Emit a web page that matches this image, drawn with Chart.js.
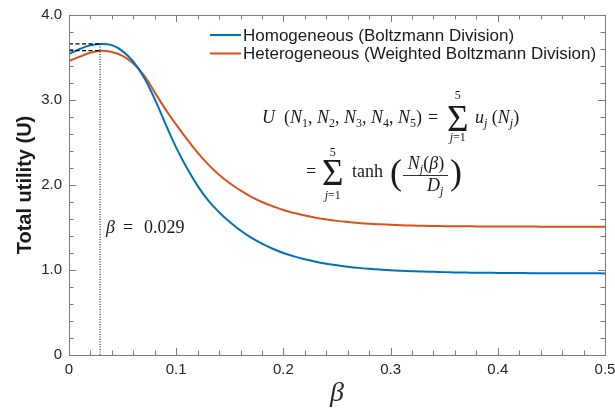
<!DOCTYPE html>
<html>
<head>
<meta charset="utf-8">
<script src="https://cdn.jsdelivr.net/npm/chart.js@4.4.1/dist/chart.umd.min.js"></script>
<style>
  html, body { margin: 0; padding: 0; background: #fff; }
  #wrap { width: 615px; height: 411px; position: relative; }
</style>
</head>
<body>
<div id="wrap"><canvas id="utilityChart"></canvas></div>
<script>
// ── Data ──
const betaValues = [
  0, 0.01, 0.02, 0.03, 0.04, 0.05, 0.06, 0.07, 0.08, 0.09,
  0.10, 0.11, 0.12, 0.13, 0.14, 0.15, 0.16, 0.17, 0.18, 0.19,
  0.20, 0.21, 0.22, 0.23, 0.24, 0.25, 0.26, 0.27, 0.28, 0.29,
  0.30, 0.31, 0.32, 0.33, 0.34, 0.35, 0.36, 0.37, 0.38, 0.39,
  0.40, 0.41, 0.42, 0.43, 0.44, 0.45, 0.46, 0.47, 0.48, 0.49, 0.50
];
const homogeneous = [
  3.54, 3.60, 3.643, 3.66, 3.645, 3.575, 3.45, 3.265, 3.01, 2.72,
  2.44, 2.20, 1.99, 1.815, 1.68, 1.565, 1.465, 1.38, 1.309, 1.25,
  1.20, 1.16, 1.126, 1.097, 1.074, 1.055, 1.039, 1.025, 1.014, 1.005,
  0.997, 0.991, 0.986, 0.981, 0.978, 0.975, 0.972, 0.970, 0.968, 0.967,
  0.966, 0.965, 0.964, 0.963, 0.963, 0.962, 0.962, 0.961, 0.961, 0.961, 0.960
];
const heterogeneous = [
  3.46, 3.51, 3.555, 3.58, 3.565, 3.52, 3.43, 3.29, 3.09, 2.89,
  2.71, 2.54, 2.38, 2.24, 2.12, 2.02, 1.935, 1.86, 1.80, 1.75,
  1.705, 1.67, 1.64, 1.615, 1.595, 1.578, 1.565, 1.554, 1.545, 1.538,
  1.532, 1.527, 1.523, 1.52, 1.518, 1.516, 1.515, 1.514, 1.513, 1.512,
  1.512, 1.511, 1.511, 1.511, 1.51, 1.51, 1.51, 1.51, 1.51, 1.51, 1.51
];
const seriesLabels = [
  'Homogeneous (Boltzmann Division)',
  'Heterogeneous (Weighted Boltzmann Division)'
];

// optimum marker
const peakBeta = 0.029;
const peakHomogeneous = 3.66;
const peakHeterogeneous = 3.58;

// ticks
const xMajorTicks = [0, 0.1, 0.2, 0.3, 0.4, 0.5];
const xMinorTicks = [0.02, 0.04, 0.06, 0.08, 0.12, 0.14, 0.16, 0.18, 0.22, 0.24,
                     0.26, 0.28, 0.32, 0.34, 0.36, 0.38, 0.42, 0.44, 0.46, 0.48];
const yMajorTicks = [0, 1, 2, 3, 4];
const yMinorTicks = [0.2, 0.4, 0.6, 0.8, 1.2, 1.4, 1.6, 1.8, 2.2, 2.4,
                     2.6, 2.8, 3.2, 3.4, 3.6, 3.8];

const BLUE   = '#0072BD';
const ORANGE = '#D95319';
const AXIS   = '#7a7a7a';
const SANS   = '"Liberation Sans", Arial, Helvetica, sans-serif';
const SERIF  = '"Liberation Serif", "Times New Roman", serif';

const toPoints = ys => betaValues.map((b, i) => ({ x: b, y: ys[i] }));
const fmtTick  = v => (v === 0 ? '0' : v.toFixed(1));

// ── helpers for the math text ──
function runs(ctx, x, y, parts) {
  for (const [text, font, dy = 0] of parts) {
    ctx.font = font;
    ctx.fillText(text, x, y + dy);
    x += ctx.measureText(text).width;
  }
  return x;
}

function bigSum(ctx, x, baseline, top, bottom) {
  ctx.font = `37px ${SERIF}`;
  const w = ctx.measureText('Σ').width;
  ctx.fillText('Σ', x, baseline);
  const cx = x + w / 2;
  ctx.textAlign = 'center';
  ctx.font = `12px ${SERIF}`;
  ctx.fillText('5', cx, top);
  ctx.textAlign = 'left';
  // j=1 underneath
  ctx.font = `italic 12px ${SERIF}`;
  const jw = ctx.measureText('j').width;
  ctx.font = `12px ${SERIF}`;
  const rw = ctx.measureText('=1').width;
  const sx = cx - (jw + rw) / 2;
  ctx.font = `italic 12px ${SERIF}`;
  ctx.fillText('j', sx, bottom);
  ctx.font = `12px ${SERIF}`;
  ctx.fillText('=1', sx + jw, bottom);
  return x + w;
}

// ── plugin: box, inward ticks, legend, annotations ──
const matlabDecor = {
  id: 'matlabDecor',
  afterDatasetsDraw(chart) {
    const { ctx, chartArea: a, scales: { x, y } } = chart;
    ctx.save();

    // axes box
    ctx.strokeStyle = AXIS;
    ctx.lineWidth = 1;
    ctx.strokeRect(Math.round(a.left) + 0.5, Math.round(a.top) + 0.5,
                   Math.round(a.right - a.left), Math.round(a.bottom - a.top));

    // inward ticks on all four sides
    const tickX = (vals, len) => {
      vals.forEach(v => {
        const px = Math.round(x.getPixelForValue(v)) + 0.5;
        ctx.beginPath();
        ctx.moveTo(px, a.bottom); ctx.lineTo(px, a.bottom - len);
        ctx.moveTo(px, a.top);    ctx.lineTo(px, a.top + len);
        ctx.stroke();
      });
    };
    const tickY = (vals, len) => {
      vals.forEach(v => {
        const py = Math.round(y.getPixelForValue(v)) + 0.5;
        ctx.beginPath();
        ctx.moveTo(a.left, py);  ctx.lineTo(a.left + len, py);
        ctx.moveTo(a.right, py); ctx.lineTo(a.right - len, py);
        ctx.stroke();
      });
    };
    tickX(xMajorTicks, 7);
    tickX(xMinorTicks, 4.5);
    tickY(yMajorTicks, 7);
    tickY(yMinorTicks, 4.5);

    // legend (top right, no frame)
    ctx.textBaseline = 'middle';
    ctx.font = `17px ${SANS}`;
    chart.data.datasets.slice(0, 2).forEach((ds, i) => {
      const ly = 35 + i * 18.5;
      ctx.strokeStyle = ds.borderColor;
      ctx.lineWidth = 2;
      ctx.beginPath();
      ctx.moveTo(210, ly); ctx.lineTo(241, ly);
      ctx.stroke();
      ctx.fillStyle = '#1a1a1a';
      ctx.fillText(ds.label, 243, ly + 1);
    });

    // β = 0.029 label
    ctx.textBaseline = 'alphabetic';
    ctx.fillStyle = '#1a1a1a';
    const lx = x.getPixelForValue(peakBeta) + 6;
    ctx.font = `italic 18px ${SERIF}`;
    ctx.fillText('β', lx, 233);
    ctx.font = `18px ${SERIF}`;
    ctx.fillText('=', lx + 17, 233);
    ctx.fillText('0.029', lx + 38, 233);

    // utility formula, line 1
    const it = `italic 18px ${SERIF}`;
    const rm = `18px ${SERIF}`;
    const sb = `12px ${SERIF}`;
    const si = `italic 12px ${SERIF}`;
    const b1 = 123;
    const parts = [['U', it], ['  (', rm]];
    [1, 2, 3, 4, 5].forEach((n, i) => {
      parts.push(['N', it], [String(n), sb, 4]);
      if (i < 4) parts.push([', ', rm]);
    });
    parts.push([')', rm]);
    runs(ctx, 262, b1, parts);
    runs(ctx, 428, b1, [['=', rm]]);
    bigSum(ctx, 447, b1 + 8, 99, 141);
    runs(ctx, 475, b1, [['u', it], ['j', si, 4], [' (', rm], ['N', it], ['j', si, 4], [')', rm]]);

    // line 2
    const b2 = 177;
    runs(ctx, 306, b2, [['=', rm]]);
    bigSum(ctx, 322, b2 + 8, 156, 199);
    runs(ctx, 352, b2, [['tanh', rm]]);
    ctx.font = `36px ${SERIF}`;
    ctx.fillText('(', 390, b2 + 7);
    ctx.fillText(')', 450, b2 + 7);
    // fraction
    const num = [['N', it], ['j', si, 4], ['(', rm], ['β', it], [')', rm]];
    let nw = 0;
    num.forEach(([t, f]) => { ctx.font = f; nw += ctx.measureText(t).width; });
    runs(ctx, 426 - nw / 2, 169, num);
    ctx.strokeStyle = '#1a1a1a';
    ctx.lineWidth = 0.9;
    ctx.beginPath();
    ctx.moveTo(403, 175.5); ctx.lineTo(448, 175.5);
    ctx.stroke();
    runs(ctx, 427, 191, [['D', it], ['j', si, 4]]);

    ctx.restore();
  }
};

new Chart(document.getElementById('utilityChart'), {
  type: 'line',
  data: {
    datasets: [
      {
        label: seriesLabels[0],
        data: toPoints(homogeneous),
        borderColor: BLUE,
        borderWidth: 2,
        pointRadius: 0,
        tension: 0.4,
        order: 2,
      },
      {
        label: seriesLabels[1],
        data: toPoints(heterogeneous),
        borderColor: ORANGE,
        borderWidth: 2,
        pointRadius: 0,
        tension: 0.4,
        order: 3,
      },
      {
        label: 'peak line',
        data: [{ x: peakBeta, y: 0 }, { x: peakBeta, y: peakHomogeneous }],
        borderColor: '#000',
        borderWidth: 1,
        borderDash: [1, 1.5],
        pointRadius: 0,
        order: 1,
      },
      {
        label: 'peak homogeneous',
        data: [{ x: 0, y: peakHomogeneous }, { x: peakBeta, y: peakHomogeneous }],
        borderColor: '#000',
        borderWidth: 1.2,
        borderDash: [4, 2.5],
        pointRadius: 0,
        order: 1,
      },
      {
        label: 'peak heterogeneous',
        data: [{ x: 0, y: peakHeterogeneous }, { x: peakBeta, y: peakHeterogeneous }],
        borderColor: '#000',
        borderWidth: 1.2,
        borderDash: [4, 2.5],
        pointRadius: 0,
        order: 1,
      },
    ],
  },
  options: {
    responsive: true,
    maintainAspectRatio: false,
    animation: false,
    layout: { padding: { left: 0, top: 15, right: 10, bottom: 0 } },
    plugins: {
      legend: { display: false },
      tooltip: { enabled: false },
    },
    scales: {
      x: {
        type: 'linear',
        min: 0,
        max: 0.5,
        grid: { display: false, drawTicks: false },
        border: { display: false },
        afterBuildTicks: s => { s.ticks = xMajorTicks.map(v => ({ value: v })); },
        ticks: {
          callback: fmtTick,
          padding: 6,
          maxRotation: 0,
          font: { family: SANS, size: 15 },
          color: '#262626',
        },
        title: {
          display: true,
          text: 'β',
          padding: { top: 0, bottom: 1 },
          font: { family: SERIF, size: 28, style: 'italic' },
          color: '#262626',
        },
        afterFit: s => { s.height = 56; s.paddingLeft = 0; s.paddingRight = 0; },
      },
      y: {
        min: 0,
        max: 4,
        grid: { display: false, drawTicks: false },
        border: { display: false },
        afterBuildTicks: s => { s.ticks = yMajorTicks.map(v => ({ value: v })); },
        ticks: {
          callback: fmtTick,
          padding: 7,
          font: { family: SANS, size: 15 },
          color: '#262626',
        },
        title: {
          display: true,
          text: 'Total utility (U)',
          padding: { top: 13, bottom: 0 },
          font: { family: SANS, size: 20, weight: 'bold' },
          color: '#1a1a1a',
        },
        afterFit: s => { s.width = 69; s.paddingTop = 0; s.paddingBottom = 0; },
      },
    },
  },
  plugins: [matlabDecor],
});
</script>
</body>
</html>
